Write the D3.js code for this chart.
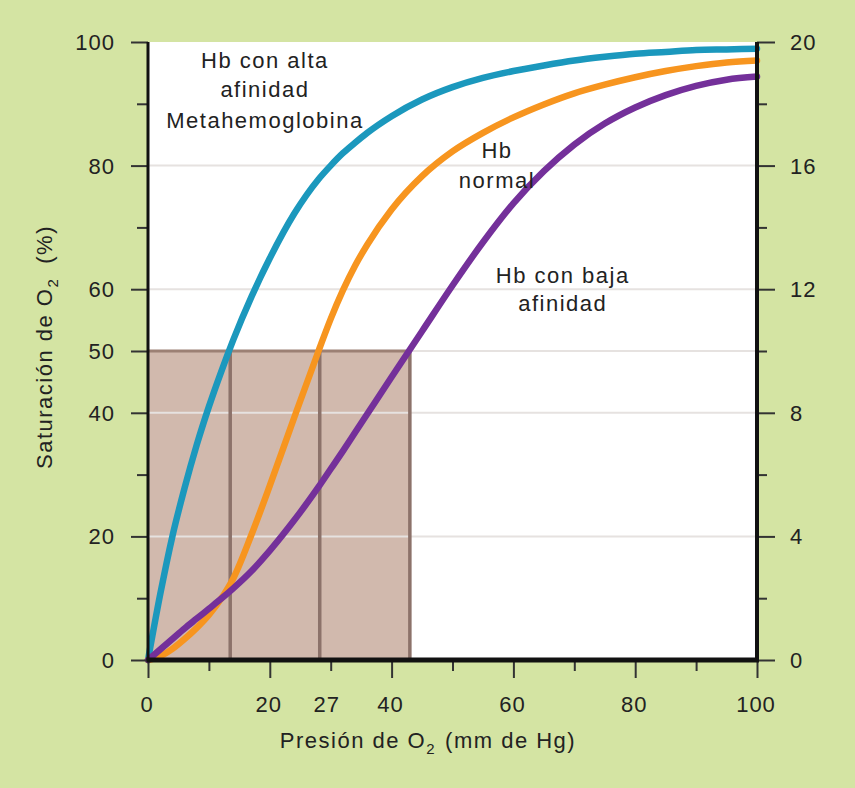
<!DOCTYPE html>
<html lang="es">
<head>
<meta charset="UTF-8" />
<title>Curva de disociación de la hemoglobina</title>
<style>
  html, body { margin: 0; padding: 0; background: #d4e4a3; }
  svg { display: block; font-family: "Liberation Sans", Arial, sans-serif; }
  .tick-label { font-size: 22px; fill: #222; letter-spacing: 1px; }
  .note { font-size: 22px; fill: #222; letter-spacing: 1.5px; text-anchor: middle; }
  .title { font-size: 22px; fill: #222; letter-spacing: 1.5px; }
</style>
</head>
<body>
<div id="chart"></div>
<script src="https://cdn.jsdelivr.net/npm/d3@7"></script>
<script>
// pressure of O2 (mm Hg) and saturation (%)
var pressure   = [0, 2, 4, 6, 8, 10, 12, 14, 17, 20, 24, 28, 30, 32, 34, 36, 40, 45, 50, 55, 60, 65, 70, 75, 80, 85, 90, 95, 100];
var satHigh    = [0, 10.6, 20, 27.8, 34.8, 41, 46.6, 51.8, 58.8, 65, 72.2, 77.8, 80, 82, 83.7, 85.3, 88, 90.7, 92.7, 94.2, 95.3, 96.2, 97, 97.6, 98.1, 98.4, 98.7, 98.8, 98.9];
var satNormal  = [0, 0.6, 1.8, 3.4, 5.2, 7.3, 9.9, 13.2, 20.3, 28.2, 39.2, 50, 55.2, 59.8, 63.8, 67.2, 72.9, 78.3, 82.3, 85.3, 87.8, 89.9, 91.7, 93.1, 94.3, 95.3, 96.1, 96.7, 97];
var satLow     = [0, 1.7, 3.4, 5.1, 6.7, 8.3, 9.9, 11.6, 14.4, 17.7, 22.6, 28, 30.9, 33.8, 36.8, 39.8, 45.8, 53.2, 60.6, 67.6, 73.9, 79.1, 83.4, 86.8, 89.4, 91.4, 92.9, 93.9, 94.4];

// P50 of each curve (high, normal, low affinity)
var p50 = [13.5, 28.2, 43];

var leftTicks   = [0, 20, 40, 50, 60, 80, 100];
var leftMinor   = [10, 30, 70, 90];
var rightTicks  = [0, 4, 8, 12, 16, 20];
var rightMinor  = [2, 6, 10, 14, 18];
var bottomMajor = [0, 20, 40, 60, 80, 100];
var bottomMinor = [10, 30, 50, 70, 90];
var bottomLabels = ["0", "20", "27", "40", "60", "80", "100"];
var gridValues  = [20, 40, 50, 60, 80];

var width = 855;
var height = 788;
var margin = { top: 42, right: 98, bottom: 128, left: 148 };

var svg = d3.select("#chart")
  .append("svg")
  .attr("width", width)
  .attr("height", height);

svg.append("rect")
  .attr("width", width)
  .attr("height", height)
  .attr("fill", "#d4e4a3");

var x = d3.scaleLinear().domain([0, 100]).range([margin.left, width - margin.right]);
var y = d3.scaleLinear().domain([0, 100]).range([height - margin.bottom, margin.top]);
var y2 = d3.scaleLinear().domain([0, 20]).range([height - margin.bottom, margin.top]);

// plot area
svg.append("rect")
  .attr("x", x(0))
  .attr("y", y(100))
  .attr("width", x(100) - x(0))
  .attr("height", y(0) - y(100))
  .attr("fill", "#ffffff");

// shaded P50 box
svg.append("rect")
  .attr("x", x(0))
  .attr("y", y(50))
  .attr("width", x(p50[2]) - x(0))
  .attr("height", y(0) - y(50))
  .attr("fill", "#d1b9ad");

// grid
svg.append("g")
  .selectAll("line")
  .data(gridValues)
  .enter()
  .append("line")
  .attr("x1", x(0))
  .attr("x2", x(100))
  .attr("y1", function(d) { return y(d); })
  .attr("y2", function(d) { return y(d); })
  .attr("stroke", "#e6e2e0")
  .attr("stroke-width", 2);

// box edges
svg.append("line")
  .attr("x1", x(0))
  .attr("x2", x(p50[2]))
  .attr("y1", y(50))
  .attr("y2", y(50))
  .attr("stroke", "#9c8074")
  .attr("stroke-width", 3);

svg.append("g")
  .selectAll("line")
  .data(p50)
  .enter()
  .append("line")
  .attr("x1", function(d) { return x(d); })
  .attr("x2", function(d) { return x(d); })
  .attr("y1", y(50))
  .attr("y2", y(0))
  .attr("stroke", "#8c726a")
  .attr("stroke-width", 3.5);

// curves
var series = [
  { values: satHigh, color: "#1b98bd" },
  { values: satNormal, color: "#f7951f" },
  { values: satLow, color: "#74309a" }
];

var line = d3.line()
  .x(function(d) { return x(d[0]); })
  .y(function(d) { return y(d[1]); })
  .curve(d3.curveMonotoneX);

svg.append("g")
  .selectAll("path")
  .data(series)
  .enter()
  .append("path")
  .attr("d", function(s) {
    return line(pressure.map(function(p, i) { return [p, s.values[i]]; }));
  })
  .attr("fill", "none")
  .attr("stroke", function(s) { return s.color; })
  .attr("stroke-width", 6.5)
  .attr("stroke-linecap", "round");

// axes
function styleTicks(g) {
  g.select(".domain").remove();
  g.selectAll(".tick line").attr("stroke", "#333").attr("stroke-width", 2);
  g.selectAll(".tick text").remove();
}

svg.append("g")
  .attr("transform", "translate(" + x(0) + ",0)")
  .call(d3.axisLeft(y).tickValues(leftTicks).tickSize(17))
  .call(styleTicks);
svg.append("g")
  .attr("transform", "translate(" + x(0) + ",0)")
  .call(d3.axisLeft(y).tickValues(leftMinor).tickSize(11))
  .call(styleTicks);

svg.append("g")
  .attr("transform", "translate(" + x(100) + ",0)")
  .call(d3.axisRight(y2).tickValues(rightTicks).tickSize(18))
  .call(styleTicks);
svg.append("g")
  .attr("transform", "translate(" + x(100) + ",0)")
  .call(d3.axisRight(y2).tickValues(rightMinor).tickSize(10))
  .call(styleTicks);

svg.append("g")
  .attr("transform", "translate(0," + y(0) + ")")
  .call(d3.axisBottom(x).tickValues(bottomMajor).tickSize(18))
  .call(styleTicks);
svg.append("g")
  .attr("transform", "translate(0," + y(0) + ")")
  .call(d3.axisBottom(x).tickValues(bottomMinor).tickSize(11))
  .call(styleTicks);

// axis lines
svg.append("line")
  .attr("x1", x(0)).attr("x2", x(0))
  .attr("y1", y(100)).attr("y2", y(0))
  .attr("stroke", "#111").attr("stroke-width", 3);
svg.append("line")
  .attr("x1", x(100)).attr("x2", x(100))
  .attr("y1", y(100)).attr("y2", y(0))
  .attr("stroke", "#111").attr("stroke-width", 4);
svg.append("line")
  .attr("x1", x(0) - 1.5).attr("x2", x(100) + 2)
  .attr("y1", y(0)).attr("y2", y(0))
  .attr("stroke", "#111").attr("stroke-width", 5);

// tick labels
svg.append("g")
  .selectAll("text")
  .data(leftTicks)
  .enter()
  .append("text")
  .attr("class", "tick-label")
  .attr("x", x(0) - 33)
  .attr("y", function(d) { return y(d); })
  .attr("dy", "0.36em")
  .attr("text-anchor", "end")
  .text(function(d) { return d; });

svg.append("g")
  .selectAll("text")
  .data(rightTicks)
  .enter()
  .append("text")
  .attr("class", "tick-label")
  .attr("x", x(100) + 33)
  .attr("y", function(d) { return y2(d); })
  .attr("dy", "0.36em")
  .attr("text-anchor", "start")
  .text(function(d) { return d; });

svg.append("g")
  .selectAll("text")
  .data(bottomLabels)
  .enter()
  .append("text")
  .attr("class", "tick-label")
  .attr("x", function(d) {
    // "27" sits next to the normal P50 line
    return d === "27" ? x(p50[1]) + 7 : x(+d) - 1;
  })
  .attr("y", y(0) + 52)
  .attr("text-anchor", "middle")
  .text(function(d) { return d; });

// axis titles
var xt = svg.append("text")
  .attr("class", "title")
  .attr("x", 428)
  .attr("y", 748)
  .attr("text-anchor", "middle");
xt.append("tspan").text("Presión de O");
xt.append("tspan").attr("font-size", "15px").attr("dy", 6).text("2");
xt.append("tspan").attr("dy", -6).attr("dx", 9).text("(mm de Hg)");

var yt = svg.append("text")
  .attr("class", "title")
  .attr("transform", "translate(52," + 347 + ") rotate(-90)")
  .attr("text-anchor", "middle");
yt.append("tspan").text("Saturación de O");
yt.append("tspan").attr("font-size", "15px").attr("dy", 6).text("2");
yt.append("tspan").attr("dy", -6).attr("dx", 14).text("(%)");

// curve notes
var notes = [
  { x: 19.2, y: 95.8, text: "Hb con alta" },
  { x: 19.2, y: 91.1, text: "afinidad" },
  { x: 19.2, y: 86.1, text: "Metahemoglobina" },
  { x: 57.3, y: 81.2, text: "Hb" },
  { x: 57.3, y: 76.4, text: "normal" },
  { x: 68.1, y: 61.0, text: "Hb con baja" },
  { x: 68.1, y: 56.4, text: "afinidad" }
];

svg.append("g")
  .selectAll("text")
  .data(notes)
  .enter()
  .append("text")
  .attr("class", "note")
  .attr("x", function(d) { return x(d.x); })
  .attr("y", function(d) { return y(d.y); })
  .text(function(d) { return d.text; });
</script>
</body>
</html>
